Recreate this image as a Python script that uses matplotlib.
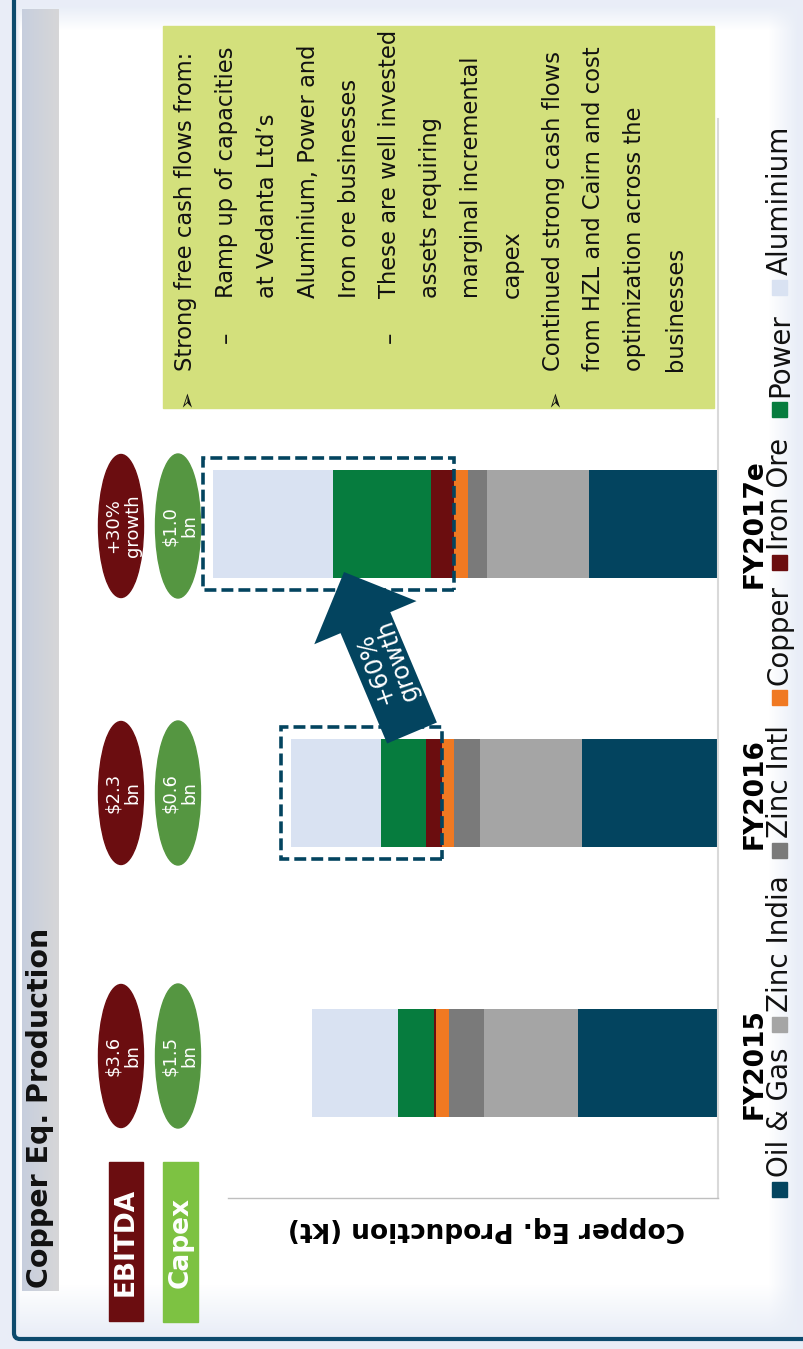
import numpy as np
import matplotlib
matplotlib.use("Agg")
import matplotlib.pyplot as plt
from matplotlib.patches import Rectangle, Ellipse, FancyArrow
from matplotlib.path import Path
from matplotlib.patches import PathPatch

plt.rcParams['font.family'] = ['DejaVu Sans']

# ---------------------------------------------------------------- data
years = ["FY2015", "FY2016", "FY2017e", ""]
segments = ["Oil & Gas", "Zinc India", "Zinc Intl", "Copper",
            "Iron Ore", "Power", "Aluminium"]
oil_gas    = [280, 272, 258]
zinc_india = [188, 204, 204]
zinc_intl  = [70, 52, 38]
copper     = [26, 24, 28]
iron_ore   = [3, 32, 46]
power      = [72, 90, 196]
aluminium  = [172, 180, 240]

ebitda_labels = ["$3.6\nbn", "$2.3\nbn", "+30%\ngrowth"]
capex_labels = ["$1.5\nbn", "$0.6\nbn", "$1.0\nbn"]
growth_label = "+60%\ngrowth"

bullet_lines = [
    (0, "bullet", "Strong free cash flows from:"),
    (1, "dash",   "Ramp up of capacities"),
    (1, "",       "at Vedanta Ltd\u2019s"),
    (1, "",       "Aluminium, Power and"),
    (1, "",       "Iron ore businesses"),
    (1, "dash",   "These are well invested"),
    (1, "",       "assets requiring"),
    (1, "",       "marginal incremental"),
    (1, "",       "capex"),
    (0, "bullet", "Continued strong cash flows"),
    (0, "",       "from HZL and Cairn and cost"),
    (0, "",       "optimization across the"),
    (0, "",       "businesses"),
]

# ---------------------------------------------------------------- style
colors = ["#03445f", "#a5a5a5", "#7a7a7a", "#f07922",
          "#6b0d0f", "#067c3e", "#d9e2f2"]
navy = "#03445f"
dark_red = "#6b0d10"
W, H = 804, 1349
legend_marker_bottoms = [1197, 1032, 858, 705, 570, 417, 295]

fig = plt.figure(figsize=(W / 100, H / 100), dpi=100)

# background: light slide colour with a soft white panel
bg = fig.add_axes([0, 0, 1, 1], zorder=0)
bg.set_axis_off()
yy, xx = np.mgrid[0:H, 0:W].astype(float)


def ramp(v, a, b):
    return np.clip((v - a) / (b - a), 0, 1)


mask = ramp(yy, 6, 30) * ramp(xx, 797, 768) * ramp(yy, 1334, 1284) * ramp(xx, 17, 20)
base = np.array([0.914, 0.933, 0.969])
img = base[None, None, :] * (1 - mask[..., None]) + mask[..., None]
bg.imshow(img, extent=(0, W, H, 0), aspect="auto", interpolation="bilinear")
bg.set_xlim(0, W)
bg.set_ylim(H, 0)

# ---------------------------------------------------------------- bars
ax = fig.add_axes([228 / W, (H - 1198) / H, 490 / W, 1079 / H], zorder=1)
ax.patch.set_alpha(0)
series = [oil_gas, zinc_india, zinc_intl, copper, iron_ore, power, aluminium]
ypos = np.arange(len(oil_gas))
left = np.zeros(len(oil_gas))
for vals, col, name in zip(series, colors, segments):
    ax.barh(ypos, vals, left=left, height=0.4, color=col, label=name,
            clip_on=False, linewidth=0)
    left = left + np.array(vals)
totals = left

ax.set_xlim(980, 0)
ax.set_ylim(-0.5, 3.5)
ax.set_xticks([])
ax.set_yticks(np.arange(len(years)))
ax.set_yticklabels(years, fontsize=19, fontweight="bold", rotation=90,
                   va="center")
ax.tick_params(axis="y", left=False, right=True, labelleft=False,
               labelright=True, length=0, pad=17)
for s in ("top", "left"):
    ax.spines[s].set_visible(False)
ax.spines["right"].set_color("#d9d9d9")
ax.spines["right"].set_linewidth(1.5)
ax.spines["bottom"].set_color("#bfbfbf")
ax.spines["bottom"].set_linewidth(1.0)
ax.set_xlabel("Copper Eq. Production (kt)", fontsize=19, fontweight="bold",
              rotation=180)
ax.xaxis.label.set_va("center")
ax.xaxis.set_label_coords((486 - 228) / 490, -(1229 - 1198) / 1079)

# dashed boxes around the Iron Ore + Power + Aluminium block
for i in (1, 2):
    start = oil_gas[i] + zinc_india[i] + zinc_intl[i] + copper[i]
    end = totals[i] + 20
    ax.add_patch(Rectangle((start, ypos[i] - 0.245), end - start, 0.49,
                           fill=False, edgecolor=navy, linewidth=2.6,
                           linestyle=(0, (3.3, 1.4)), clip_on=False,
                           zorder=5))

# ---------------------------------------------------------------- overlay
ov = fig.add_axes([0, 0, 1, 1], zorder=2)
ov.set_axis_off()
ov.patch.set_alpha(0)
ov.set_xlim(0, W)
ov.set_ylim(H, 0)

# slide frame
frame = Path([(14, 0), (14, 1333), (14, 1339), (20, 1339), (W, 1339)],
             [Path.MOVETO, Path.LINETO, Path.CURVE3, Path.CURVE3, Path.LINETO])
ov.add_patch(PathPatch(frame, fill=False, edgecolor="#0c4a6d", linewidth=3))

# title band
grad = np.linspace(0, 1, 64)
c0 = np.array([0.78, 0.81, 0.87])
c1 = np.array([0.84, 0.84, 0.845])
band = c0[None, None, :] * (1 - grad[None, :, None]) + c1[None, None, :] * grad[None, :, None]
ov.imshow(band, extent=(22, 59, 1291, 9), aspect="auto", zorder=1)
ov.text(40, 1288, "Copper Eq. Production", rotation=90, ha="center",
        va="bottom", fontsize=20.5, fontweight="bold", color="#111111",
        zorder=2)

# EBITDA / Capex headers
ov.add_patch(Rectangle((109, 1162), 34, 159, color=dark_red))
ov.text(126, 1241.5, "EBITDA", rotation=90, ha="center", va="center",
        fontsize=19, fontweight="bold", color="white")
ov.add_patch(Rectangle((163, 1162), 35, 160, color="#7dc242"))
ov.text(180.5, 1242, "Capex", rotation=90, ha="center", va="center",
        fontsize=19, fontweight="bold", color="white")

# value bubbles
bubble_y = [1056, 793, 526]
for yb, e_txt, c_txt in zip(bubble_y, ebitda_labels, capex_labels):
    ov.add_patch(Ellipse((121, yb), 45, 143, color=dark_red))
    ov.add_patch(Ellipse((178, yb), 45, 144, color="#559641"))
    ov.text(123, yb, e_txt, rotation=90, ha="center", va="center",
            fontsize=13, color="white", linespacing=1.1)
    ov.text(180, yb, c_txt, rotation=90, ha="center", va="center",
            fontsize=13, color="white", linespacing=1.1)

# growth arrow
ov.add_patch(FancyArrow(412, 733, -68, -161, width=54, head_width=111,
                        head_length=55, length_includes_head=True,
                        color=navy, linewidth=0, zorder=6))
ov.text(386, 664, growth_label, rotation=109, ha="center", va="center",
        fontsize=17.5, color="white", linespacing=1.05, zorder=7)

# commentary box
ov.add_patch(Rectangle((163, 26), 551, 382, color="#d3e07c"))
for k, (level, mark, line) in enumerate(bullet_lines):
    x = 186 + 40.8 * k
    y0 = 371 if level == 0 else 298
    ov.text(x, y0, line, rotation=90, ha="center", va="bottom",
            fontsize=16.3, color="#111111")
    if mark == "bullet":
        ov.text(x + 1, 398, "\u27a2", rotation=90, ha="center", va="center",
                fontsize=15, color="#111111")
    elif mark == "dash":
        ov.text(x, 337, "\u2013", rotation=90, ha="center", va="center",
                fontsize=16.3, color="#111111")

# legend along the bottom of the chart
for name, col, yb in zip(segments, colors, legend_marker_bottoms):
    ov.add_patch(Rectangle((772, yb - 15), 15, 15, color=col))
    ov.text(780, yb - 20, name, rotation=90, ha="center",
            va="bottom", fontsize=20, color="#111111")

fig.savefig("out.png", dpi=100)
